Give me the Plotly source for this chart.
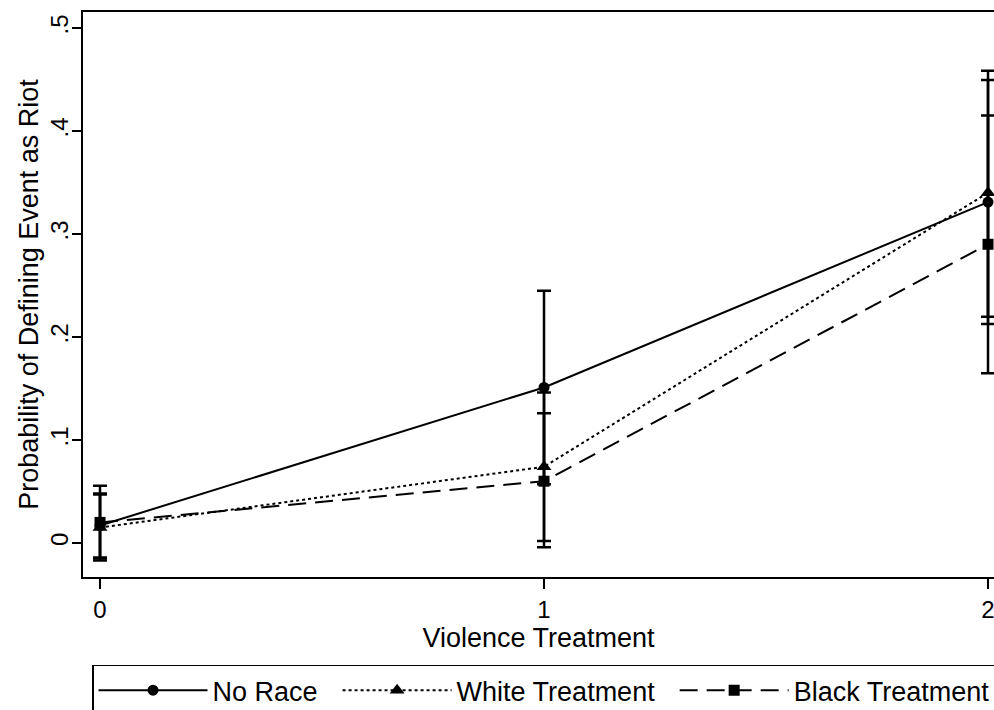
import plotly.graph_objects as go

# Data
violence = [0, 1, 2]
series_names = ["No Race", "White Treatment", "Black Treatment"]

no_race = [0.017, 0.151, 0.331]
no_race_lo = [-0.014, 0.057, 0.2126]
no_race_hi = [0.048, 0.245, 0.4495]

white = [0.015, 0.074, 0.340]
white_lo = [-0.017, 0.002, 0.2197]
white_hi = [0.047, 0.146, 0.4585]

black = [0.020, 0.060, 0.290]
black_lo = [-0.015, -0.004, 0.1647]
black_hi = [0.0556, 0.126, 0.415]

y_ticks = [0, 0.1, 0.2, 0.3, 0.4, 0.5]
y_ticktext = ["0", ".1", ".2", ".3", ".4", ".5"]
x_ticks = [0, 1, 2]
x_ticktext = ["0", "1", "2"]

FONT = "Liberation Sans, Arial, Helvetica, sans-serif"
NBSP = "\u00a0"

styles = [
    dict(dash="solid", symbol="circle", size=11, pad=2),
    dict(dash="dot", symbol="triangle-up", size=13, pad=2),
    dict(dash="18px,9px", symbol="square", size=11, pad=0),
]
vals = [no_race, white, black]
los = [no_race_lo, white_lo, black_lo]
his = [no_race_hi, white_hi, black_hi]

fig = go.Figure()
for name, v, lo, hi, st in zip(series_names, vals, los, his, styles):
    fig.add_trace(go.Scatter(
        x=violence, y=v, name=name + NBSP * st["pad"], mode="lines+markers",
        line=dict(color="black", width=2, dash=st["dash"]),
        marker=dict(color="black", symbol=st["symbol"], size=st["size"]),
        error_y=dict(type="data", symmetric=False,
                     array=[h - c for h, c in zip(hi, v)],
                     arrayminus=[c - l for c, l in zip(v, lo)],
                     color="black", thickness=2.5, width=7),
    ))

fig.update_layout(
    width=994, height=710,
    margin=dict(l=83, r=0, t=12, b=133, autoexpand=False),
    paper_bgcolor="white", plot_bgcolor="white",
    font=dict(family=FONT, color="black", size=24),
    showlegend=True,
    legend=dict(
        orientation="h", x=0.0099, xanchor="left", y=-0.155, yanchor="top",
        bordercolor="black", borderwidth=1.5, bgcolor="white",
        font=dict(family=FONT, size=27, color="black"),
        itemwidth=109,
    ),
    xaxis=dict(
        range=[-0.0383, 2.0135], tickvals=x_ticks, ticktext=x_ticktext,
        showgrid=False, zeroline=False, showline=True, mirror=True,
        linecolor="black", linewidth=2, ticks="outside", ticklen=10,
        tickwidth=1.5, tickcolor="black", tickfont=dict(size=24),
        ticklabeloverflow="allow",
        title=dict(text="Violence Treatment", font=dict(size=27), standoff=6),
    ),
    yaxis=dict(
        range=[-0.033, 0.5155], tickvals=y_ticks, ticktext=y_ticktext,
        showgrid=False, zeroline=False, showline=True, mirror=False,
        linecolor="black", linewidth=2, ticks="outside", ticklen=9,
        tickwidth=1.5, tickcolor="black", tickangle=-90, tickfont=dict(size=24),
        ticklabelstandoff=-6,
        title=dict(text="Probability of Defining Event as Riot", font=dict(size=27), standoff=0),
    ),
)

fig.write_html("out.html")
